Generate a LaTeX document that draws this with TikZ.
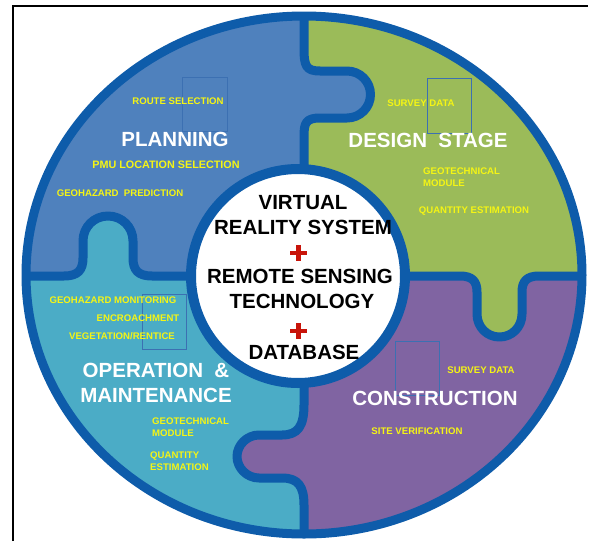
\documentclass[tikz,border=0pt]{standalone}
\usepackage{fontspec}
\setmainfont{Liberation Sans}
\definecolor{plancol}{HTML}{4F81BD}
\definecolor{descol}{HTML}{9BBB59}
\definecolor{opcol}{HTML}{4BACC6}
\definecolor{concol}{HTML}{8064A2}
\definecolor{ringc}{RGB}{14,92,170}
\definecolor{tboxc}{RGB}{60,112,178}
\definecolor{ylwc}{RGB}{245,245,20}
\definecolor{pluscol}{RGB}{200,20,10}
\tikzset{
  ylw/.style={text=ylwc, font=\bfseries\fontsize{9.6}{12}\selectfont, inner sep=0pt},
  hdr/.style={text=white, font=\bfseries\fontsize{20.5}{24}\selectfont, inner sep=0pt},
  ctr/.style={text=black, font=\bfseries\fontsize{20.5}{24}\selectfont, inner sep=0pt},
  divider/.style={draw=ringc, line width=9pt, line join=round},
  tbox/.style={draw=tboxc, line width=0.8pt},
  plusmark/.style={draw=pluscol, line width=4.5pt}
}
\begin{document}
\begin{tikzpicture}[x=1pt,y=-1pt]
\useasboundingbox (0,0) rectangle (590,542);
% quadrants
\begin{scope}
\clip (304,275) ellipse [x radius=278pt, y radius=259pt];
\fill[plancol] (0,0) rectangle (304,276);
\fill[descol] (304,0) rectangle (590,276);
\fill[opcol] (0,276) rectangle (304,542);
\fill[concol] (304,276) rectangle (590,542);
% top knob (planning into design)
\fill[plancol] (304,48) .. controls (304,66) and (306,71) .. (320,71) -- (347,71)
  .. controls (360,71) and (370.5,81.5) .. (370.5,94.5)
  .. controls (370.5,107.5) and (360,118) .. (347,118) -- (320,118)
  .. controls (306,118) and (304,123) .. (304,136) -- cycle;
% left knob (operation into planning)
\fill[opcol] (64,276) .. controls (78,276) and (83,270) .. (83,258) -- (83,241)
  .. controls (83,227) and (94,216) .. (108,216)
  .. controls (122,216) and (133,227) .. (133,241) -- (133,258)
  .. controls (133,270) and (138,276) .. (152,276) -- cycle;
% right knob (design into construction)
\fill[descol] (460,276) .. controls (472,276) and (477,281) .. (477,292) -- (477,314)
  .. controls (477,327) and (487,337) .. (499.5,337)
  .. controls (512,337) and (522,327) .. (522,314) -- (522,292)
  .. controls (522,281) and (527,276) .. (539,276) -- cycle;
% bottom knob (construction into operation)
\fill[concol] (304,405) .. controls (304,426) and (298,435) .. (282,435) -- (259,435)
  .. controls (247,435) and (237,445) .. (237,456.5)
  .. controls (237,468) and (247,478) .. (259,478) -- (282,478)
  .. controls (298,478) and (304,486) .. (304,505) -- cycle;
% dividers
\draw[divider] (304,-5) -- (304,48) .. controls (304,66) and (306,71) .. (320,71) -- (347,71)
  .. controls (360,71) and (370.5,81.5) .. (370.5,94.5)
  .. controls (370.5,107.5) and (360,118) .. (347,118) -- (320,118)
  .. controls (306,118) and (304,123) .. (304,136) -- (304,405)
  .. controls (304,426) and (298,435) .. (282,435) -- (259,435)
  .. controls (247,435) and (237,445) .. (237,456.5)
  .. controls (237,468) and (247,478) .. (259,478) -- (282,478)
  .. controls (298,478) and (304,486) .. (304,505) -- (304,550);
\draw[divider] (0,276) -- (64,276) .. controls (78,276) and (83,270) .. (83,258) -- (83,241)
  .. controls (83,227) and (94,216) .. (108,216)
  .. controls (122,216) and (133,227) .. (133,241) -- (133,258)
  .. controls (133,270) and (138,276) .. (152,276) -- (460,276)
  .. controls (472,276) and (477,281) .. (477,292) -- (477,314)
  .. controls (477,327) and (487,337) .. (499.5,337)
  .. controls (512,337) and (522,327) .. (522,314) -- (522,292)
  .. controls (522,281) and (527,276) .. (539,276) -- (595,276);
\end{scope}
\draw[draw=ringc, line width=9pt] (304,275) ellipse [x radius=278pt, y radius=259pt];
% faint text box outlines
\draw[tbox] (182,77) rectangle (227,131);
\draw[tbox] (427,78) rectangle (471,133);
\draw[tbox] (142,294) rectangle (186,349);
\draw[tbox] (395,341) rectangle (439,395);
% centre circle
\draw[draw=ringc, fill=white, line width=10pt] (298,276) circle [radius=107pt];
% centre text
\node[ctr] (c1) at (303,203) {VIRTUAL};
\node[ctr] (c2) at (303,227) {REALITY SYSTEM};
\draw[plusmark] (290,253) -- (307,253) (298.5,245) -- (298.5,261);
\node[ctr] (c3) at (300,276) {REMOTE SENSING};
\node[ctr] (c4) at (302,301) {TECHNOLOGY};
\draw[plusmark] (290,331) -- (307,331) (298.5,323) -- (298.5,339);
\node[ctr] (c5) at (304,352) {DATABASE};
% headers
\node[hdr] (h1) at (175,139) {PLANNING};
\node[hdr] (h2) at (428,140) {DESIGN~~STAGE};
\node[hdr] (h3) at (156,370) {OPERATION~~\&};
\node[hdr] (h4) at (156,395) {MAINTENANCE};
\node[hdr] (h5) at (435,398) {CONSTRUCTION};
% planning items
\node[ylw] (p1) at (178,101) {ROUTE SELECTION};
\node[ylw, font=\bfseries\fontsize{10.8}{12}\selectfont] (p2) at (166,165) {PMU LOCATION SELECTION};
\node[ylw] (p3) at (120,193) {GEOHAZARD~~PREDICTION};
% design items
\node[ylw] (d1) at (421,103) {SURVEY DATA};
\node[ylw, align=left, anchor=west] (d2) at (423,177) {GEOTECHNICAL\\MODULE};
\node[ylw] (d3) at (474,211) {QUANTITY ESTIMATION};
% operation items
\node[ylw] (o1) at (113,300) {GEOHAZARD MONITORING};
\node[ylw] (o2) at (138,318) {ENCROACHMENT};
\node[ylw] (o3) at (122,336) {VEGETATION/RENTICE};
\node[ylw, align=left, anchor=west] (o4) at (152,427) {GEOTECHNICAL\\MODULE};
\node[ylw, align=left, anchor=west] (o5) at (150,461) {QUANTITY\\ESTIMATION};
% construction items
\node[ylw] (k1) at (481,370) {SURVEY DATA};
\node[ylw] (k2) at (417,431) {SITE VERIFICATION};
% frame
\draw[black, line width=1.8pt] (13,541) -- (13,6) -- (588,6);
\end{tikzpicture}
\end{document}
